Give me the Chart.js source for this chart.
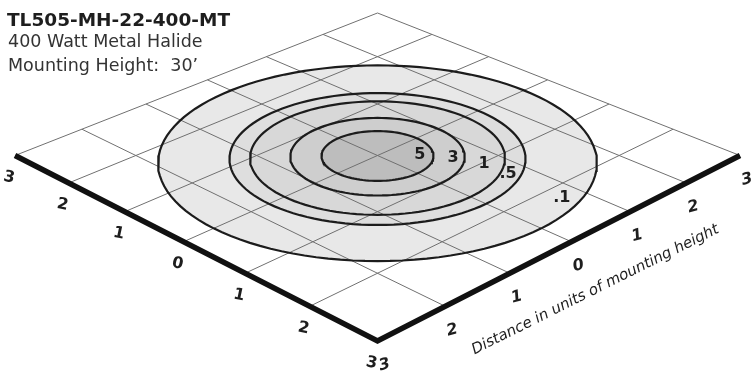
<!DOCTYPE html>
<html>
<head>
<meta charset="utf-8">
<script src="https://cdn.jsdelivr.net/npm/chart.js@4/dist/chart.umd.min.js"></script>
<style>
body{margin:0;background:#fff}
#wrap{width:751px;height:375px}
</style>
</head>
<body>
<div id="wrap"><canvas id="myChart" width="751" height="375"></canvas></div>
<script>
const titleLines = ['TL505-MH-22-400-MT', '400 Watt Metal Halide', 'Mounting Height:  30\u2019'];
const axisTitle = 'Distance in units of mounting height';
// grid steps in units of mounting height
const gridSteps = [-3, -2, -1, 0, 1, 2, 3];
const leftTicks = ['3', '2', '1', '0', '1', '2', '3'];
const rightTicks = ['3', '2', '1', '0', '1', '2', '3'];
// iso-footcandle contours: label and radius (mounting heights)
const contourLevels = ['5', '3', '1', '.5', '.1'];
const contourRadius = [0.655, 1.02, 1.49, 1.73, 2.56];

// look
const DEPTH = 0.0437; // perspective strength
const contourFills = ['#bdbdbd', '#cecece', '#d8d8d8', '#dedede', '#e8e8e8'];
const labelAnchors = [[0.34, 0.36], [0.67, 0.58], [1.03, 0.72], [1.40, 0.73], [2.24, 0.71]];

// ground (p along left edge, q along right edge) -> projected chart units
function project(p, q) {
    const w = (p + q) / 2, d = (p - q) / 2;
    const z = 1 - DEPTH * d;
    return {x: w / z, y: 1 / z};
}
function circle(r) {
    const pts = [];
    for (let i = 0; i <= 120; i++) {
        const t = i / 120 * 2 * Math.PI;
        pts.push(project(r * Math.cos(t), r * Math.sin(t)));
    }
    return pts;
}

const datasets = [];
contourRadius.forEach((r, i) => {
    datasets.push({data: circle(r), showLine: true, fill: 'shape', backgroundColor: contourFills[i],
        borderColor: 'rgba(0,0,0,0)', borderWidth: 0, pointRadius: 0, order: 10 + i});
});
gridSteps.forEach(s => {
    datasets.push({data: [project(s, -3), project(s, 3)], showLine: true, borderColor: '#707070', borderWidth: 1, pointRadius: 0, order: 5});
    datasets.push({data: [project(-3, s), project(3, s)], showLine: true, borderColor: '#707070', borderWidth: 1, pointRadius: 0, order: 5});
});
contourRadius.forEach(r => {
    datasets.push({data: circle(r), showLine: true, borderColor: '#1c1c1c', borderWidth: 2.2, pointRadius: 0, order: 2});
});
// front edges
datasets.push({data: [project(-3, -3), project(3, -3), project(3, 3)], showLine: true, borderColor: '#111',
    borderWidth: 5.5, borderJoinStyle: 'miter', borderCapStyle: 'butt', pointRadius: 0, order: 1});

const textPlugin = {
    id: 'texts',
    afterDatasetsDraw(chart) {
        const {ctx, scales: {x, y}} = chart;
        const px = pt => [x.getPixelForValue(pt.x), y.getPixelForValue(pt.y)];
        ctx.save();
        ctx.fillStyle = '#1e1e1e';
        ctx.textAlign = 'left';
        ctx.textBaseline = 'alphabetic';
        ctx.font = 'bold 18.5px "DejaVu Sans"';
        ctx.fillText(titleLines[0], 7, 26);
        ctx.fillStyle = '#333';
        ctx.font = '17.5px "DejaVu Sans"';
        ctx.fillText(titleLines[1], 8, 46.5);
        ctx.fillText(titleLines[2], 8, 70.5);

        ctx.fillStyle = '#1e1e1e';
        ctx.textAlign = 'center';
        ctx.textBaseline = 'middle';
        ctx.font = 'bold 16px "DejaVu Sans"';
        contourLevels.forEach((lab, i) => {
            const [a, b] = px(project(labelAnchors[i][0], labelAnchors[i][1]));
            ctx.fillText(lab, a, b);
        });

        gridSteps.forEach((s, i) => {
            let [a, b] = px(project(s, -3));
            ctx.save();
            ctx.translate(a - 6, b + 22);
            ctx.rotate(12 * Math.PI / 180);
            ctx.font = 'bold 16px "DejaVu Sans"';
            ctx.fillText(leftTicks[i], 0, 0);
            ctx.restore();
            [a, b] = px(project(3, s));
            ctx.save();
            ctx.translate(a + 7, b + 24);
            ctx.rotate(-15 * Math.PI / 180);
            ctx.font = 'italic bold 16px "DejaVu Sans"';
            ctx.fillText(rightTicks[i], 0, 0);
            ctx.restore();
        });

        const [ta, tb] = px(project(3, 0));
        ctx.save();
        ctx.translate(ta + 24, tb + 48);
        ctx.rotate(-26.5 * Math.PI / 180);
        ctx.font = 'italic 15px "DejaVu Sans"';
        ctx.fillText(axisTitle, 0, 0);
        ctx.restore();
        ctx.restore();
    }
};

const ctx = document.getElementById('myChart').getContext('2d');
const myChart = new Chart(ctx, {
    type: 'scatter',
    data: {datasets: datasets},
    options: {
        responsive: false,
        animation: false,
        layout: {padding: 0},
        plugins: {legend: {display: false}, tooltip: {enabled: false}},
        scales: {
            x: {type: 'linear', display: false, min: -377.5 / 120.83, max: (751 - 377.5) / 120.83},
            y: {type: 'linear', display: false, reverse: true, min: 1074 / 1229.5, max: (375 + 1074) / 1229.5}
        }
    },
    plugins: [textPlugin]
});
</script>
</body>
</html>
